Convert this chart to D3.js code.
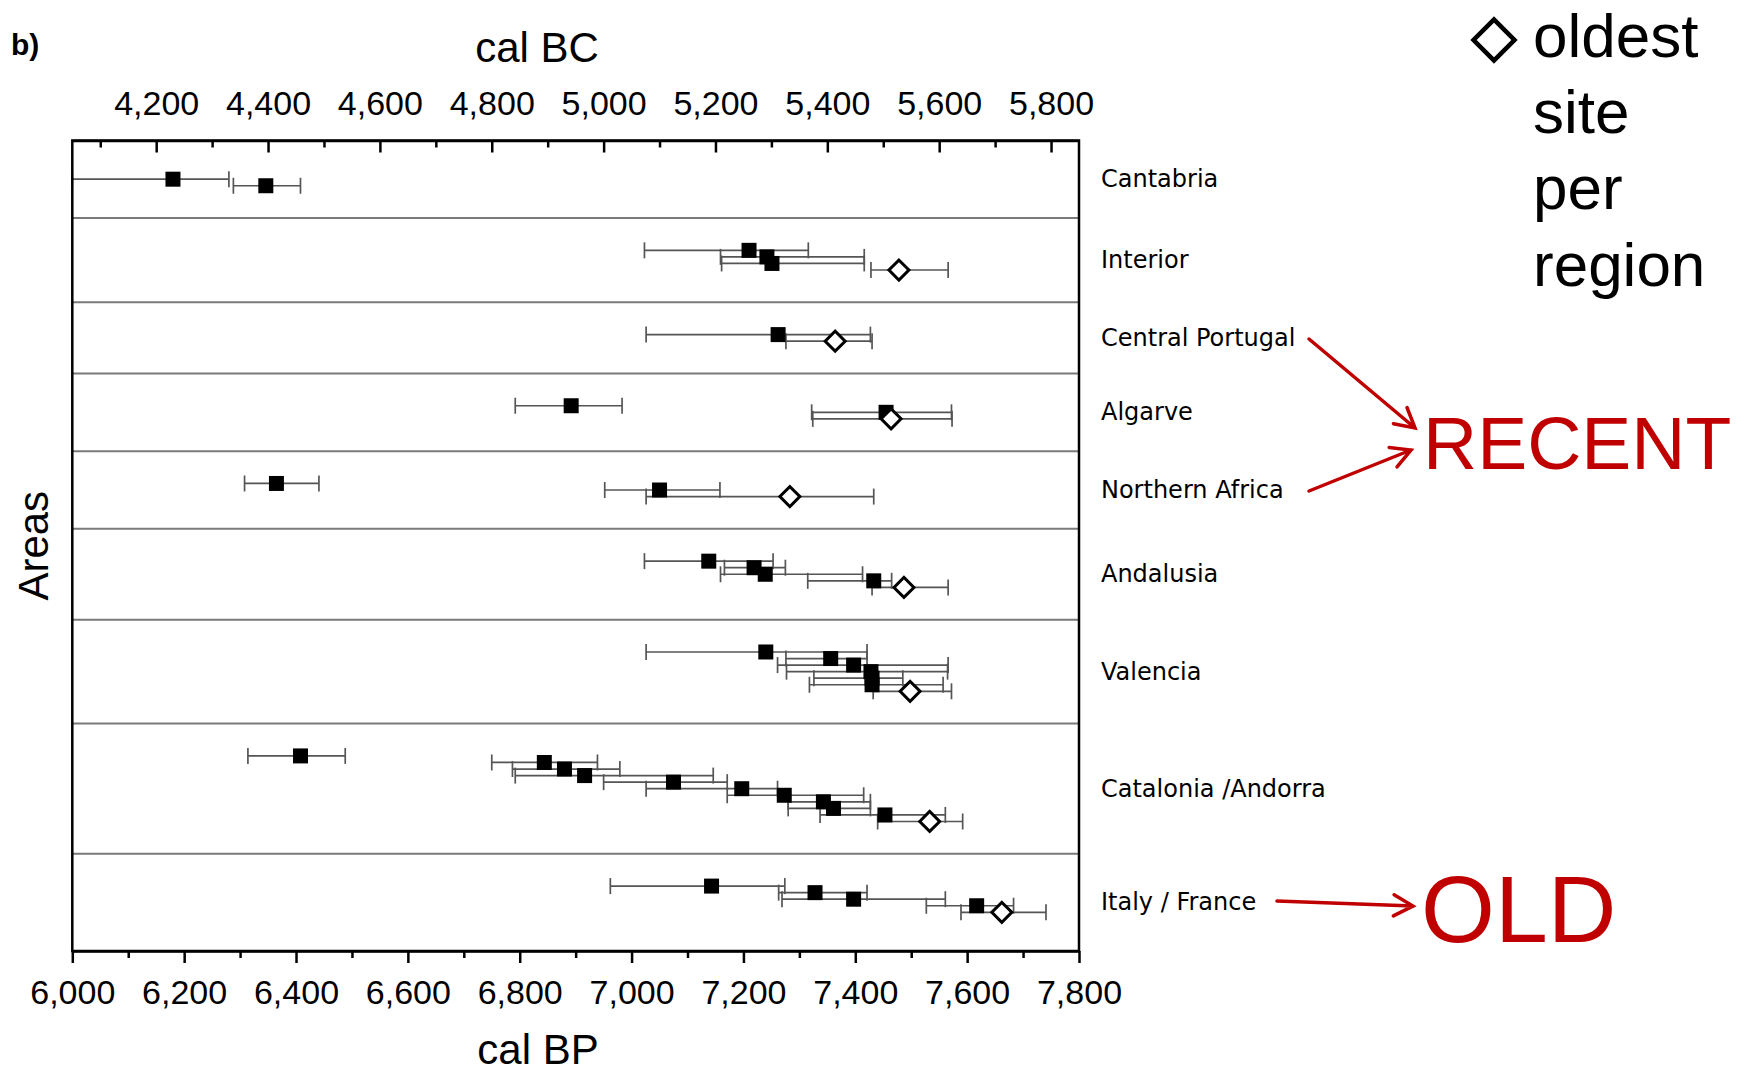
<!DOCTYPE html>
<html>
<head>
<meta charset="utf-8">
<script src="https://cdn.jsdelivr.net/npm/d3@7"></script>
<style>
  body { margin: 0; background: #fff; }
  svg { display: block; background: #fff; }
  .axis text { font-family: "Liberation Sans", Arial, sans-serif; font-size: 34px; fill: #000; }
  .axis path, .axis line { stroke: #000; stroke-width: 2.5; }
  .title { font-family: "Liberation Sans", Arial, sans-serif; font-size: 42px; fill: #000; }
  .region-label { font-family: "DejaVu Sans", Verdana, sans-serif; font-size: 24px; fill: #000; }
  .legend { font-family: "Liberation Sans", Arial, sans-serif; font-size: 62px; fill: #000; }
  .note { font-family: "Liberation Sans", Arial, sans-serif; fill: #c00000; }
</style>
</head>
<body>
<svg width="1744" height="1074"></svg>
<script>
// regions, top to bottom
const regions = ["Cantabria", "Interior", "Central Portugal", "Algarve", "Northern Africa",
    "Andalusia", "Valencia", "Catalonia /Andorra", "Italy / France"];

// dates in cal BP (point), lower and upper end of the range, per region
const dateBP = [
    [6180, 6346],
    [7210, 7242, 7251, 7478],
    [7262, 7364],
    [6892, 7455, 7464],
    [6365, 7050, 7283],
    [7138, 7219, 7239, 7433, 7487],
    [7240, 7356, 7397, 7428, 7430, 7430, 7498],
    [6408, 6844, 6880, 6916, 7075, 7197, 7273, 7343, 7361, 7453, 7533],
    [7143, 7328, 7397, 7617, 7662]
];
const lowBP = [
    [6000, 6288],
    [7023, 7159, 7161, 7428],
    [7026, 7276],
    [6792, 7322, 7324],
    [6308, 6952, 7026],
    [7023, 7166, 7159, 7315, 7430],
    [7026, 7276, 7261, 7277, 7326, 7318, 7432],
    [6314, 6750, 6787, 6792, 6950, 7026, 7171, 7280, 7280, 7337, 7440],
    [6962, 7263, 7269, 7527, 7589]
];
const highBP = [
    [6280, 6408],
    [7316, 7416, 7416, 7566],
    [7427, 7430],
    [6983, 7572, 7573],
    [6441, 7158, 7433],
    [7253, 7275, 7413, 7465, 7566],
    [7421, 7421, 7566, 7565, 7485, 7557, 7572],
    [6488, 6939, 6979, 7146, 7171, 7261, 7415, 7427, 7427, 7561, 7592],
    [7274, 7421, 7561, 7683, 7741]
];
// last date of the region is the oldest site (open diamond)
const hasOldest = [false, true, true, true, true, true, true, true, true];

const bpTicks = d3.range(6000, 7801, 100);
const bcTicks = d3.range(4100, 5801, 100);

let svg = d3.select("svg"),
    margin = {top: 140.5, right: 665, bottom: 123, left: 72.3},
    width = +svg.attr("width") - margin.left - margin.right,
    height = +svg.attr("height") - margin.top - margin.bottom;

// vertical layout in "slot" units: one slot between dates of a region
const padUnits = 5.9, gapUnits = 9.85;

let rows = [], bands = [];
let cursor = padUnits;
regions.forEach(function (name, i) {
    let first = cursor;
    dateBP[i].forEach(function (v, j) {
        rows.push({
            region: name, value: v, low: lowBP[i][j], high: highBP[i][j], slot: cursor,
            oldest: hasOldest[i] && j === dateBP[i].length - 1
        });
        cursor += 1;
    });
    let last = cursor - 1;
    bands.push({name: name, first: first, last: last});
    cursor = last + gapUnits;
});
let total = bands[bands.length - 1].last + padUnits;
bands.forEach(function (b, i) {
    b.top = i === 0 ? 0 : (bands[i - 1].last + b.first) / 2;
    b.bottom = i === bands.length - 1 ? total : (b.last + bands[i + 1].first) / 2;
});

let x = d3.scaleLinear().domain([6000, 7800]).range([0, width]),
    xBC = d3.scaleLinear().domain([6000 - 1950, 7800 - 1950]).range([0, width]),
    y = d3.scaleLinear().domain([0, total]).range([0, height]);

let fmt = d3.format(",");

let plot = svg.append("g")
    .attr("transform", "translate(" + margin.left + "," + margin.top + ")");

// region separators
plot.append("g")
    .selectAll("line")
    .data(bands.slice(1))
    .enter().append("line")
    .attr("x1", 0).attr("x2", width)
    .attr("y1", d => y(d.top)).attr("y2", d => y(d.top))
    .attr("stroke", "#7a7a7a")
    .attr("stroke-width", 2);

// error bars
let bars = plot.append("g")
    .attr("stroke", "#555")
    .attr("stroke-width", 1.7);
bars.selectAll(".range")
    .data(rows)
    .enter().append("line")
    .attr("class", "range")
    .attr("x1", d => x(d.low)).attr("x2", d => x(d.high))
    .attr("y1", d => y(d.slot)).attr("y2", d => y(d.slot));
bars.selectAll(".cap")
    .data(rows.flatMap(d => [{v: d.low, s: d.slot}, {v: d.high, s: d.slot}]))
    .enter().append("line")
    .attr("class", "cap")
    .attr("x1", d => x(d.v)).attr("x2", d => x(d.v))
    .attr("y1", d => y(d.s) - 8).attr("y2", d => y(d.s) + 8);

// dates
plot.append("g")
    .selectAll("path")
    .data(rows.filter(d => !d.oldest))
    .enter().append("path")
    .attr("d", d3.symbol(d3.symbolSquare, 225))
    .attr("transform", d => "translate(" + x(d.value) + "," + y(d.slot) + ")")
    .attr("fill", "#000");

plot.append("g")
    .selectAll("path")
    .data(rows.filter(d => d.oldest))
    .enter().append("path")
    .attr("d", d3.symbol(d3.symbolSquare, 200))
    .attr("transform", d => "translate(" + x(d.value) + "," + y(d.slot) + ") rotate(45)")
    .attr("fill", "#fff")
    .attr("stroke", "#000")
    .attr("stroke-width", 3);

// axes
let topAxis = plot.append("g")
    .attr("class", "axis")
    .call(d3.axisTop(xBC).tickValues(bcTicks).tickSizeInner(-12).tickSizeOuter(0)
        .tickPadding(26).tickFormat(d => d % 200 === 0 ? fmt(d) : ""));
topAxis.selectAll(".tick").filter(d => d % 200 !== 0).select("line").attr("y2", 7);

let bottomAxis = plot.append("g")
    .attr("class", "axis")
    .attr("transform", "translate(0," + height + ")")
    .call(d3.axisBottom(x).tickValues(bpTicks).tickSizeInner(12).tickSizeOuter(0)
        .tickPadding(17).tickFormat(d => d % 200 === 0 ? fmt(d) : ""));
bottomAxis.selectAll(".tick").filter(d => d % 200 !== 0).select("line").attr("y2", 7);

plot.append("rect")
    .attr("width", width).attr("height", height)
    .attr("fill", "none")
    .attr("stroke", "#000")
    .attr("stroke-width", 2.5);

// region names
plot.append("g")
    .selectAll("text")
    .data(bands)
    .enter().append("text")
    .attr("class", "region-label")
    .attr("x", width + 22)
    .attr("y", d => y((d.top + d.bottom) / 2))
    .attr("dominant-baseline", "central")
    .text(d => d.name);

// titles
svg.append("text").attr("class", "title").attr("x", 537).attr("y", 62)
    .attr("text-anchor", "middle").text("cal BC");
svg.append("text").attr("class", "title").attr("x", 538).attr("y", 1064)
    .attr("text-anchor", "middle").text("cal BP");
svg.append("text").attr("class", "title")
    .attr("transform", "translate(33," + (margin.top + height * 0.5) + ") rotate(-90)")
    .attr("text-anchor", "middle").attr("dominant-baseline", "central").text("Areas");
svg.append("text").attr("x", 11).attr("y", 55)
    .style("font-family", "Liberation Sans, Arial, sans-serif")
    .style("font-size", "30px").style("font-weight", "bold").text("b)");

// legend
svg.append("path")
    .attr("d", d3.symbol(d3.symbolSquare, 840))
    .attr("transform", "translate(1494,40) rotate(45)")
    .attr("fill", "none").attr("stroke", "#000").attr("stroke-width", 4.5);
svg.append("text").attr("class", "legend").attr("x", 1533).attr("y", 57)
    .selectAll("tspan")
    .data(["oldest", "site", "per", "region"])
    .enter().append("tspan")
    .attr("x", 1533)
    .attr("dy", (d, i) => i === 0 ? 0 : 76.2)
    .text(d => d);

// red annotations
svg.append("text").attr("class", "note").attr("x", 1423).attr("y", 469)
    .style("font-size", "75px").text("RECENT");
svg.append("text").attr("class", "note").attr("x", 1421).attr("y", 942)
    .style("font-size", "95px").text("OLD");

let arrows = [
    [1309, 339, 1415, 428],
    [1309, 491, 1411, 450],
    [1277, 901, 1413, 906]
];
let arrowG = svg.append("g")
    .attr("stroke", "#c00000").attr("stroke-width", 3.5)
    .attr("fill", "none").attr("stroke-linecap", "round");
arrows.forEach(function (a) {
    let ang = Math.atan2(a[3] - a[1], a[2] - a[0]), len = 22, spread = 0.5;
    let p = d3.path();
    p.moveTo(a[0], a[1]);
    p.lineTo(a[2], a[3]);
    p.moveTo(a[2] - len * Math.cos(ang - spread), a[3] - len * Math.sin(ang - spread));
    p.lineTo(a[2], a[3]);
    p.lineTo(a[2] - len * Math.cos(ang + spread), a[3] - len * Math.sin(ang + spread));
    arrowG.append("path").attr("d", p.toString());
});
</script>
</body>
</html>
